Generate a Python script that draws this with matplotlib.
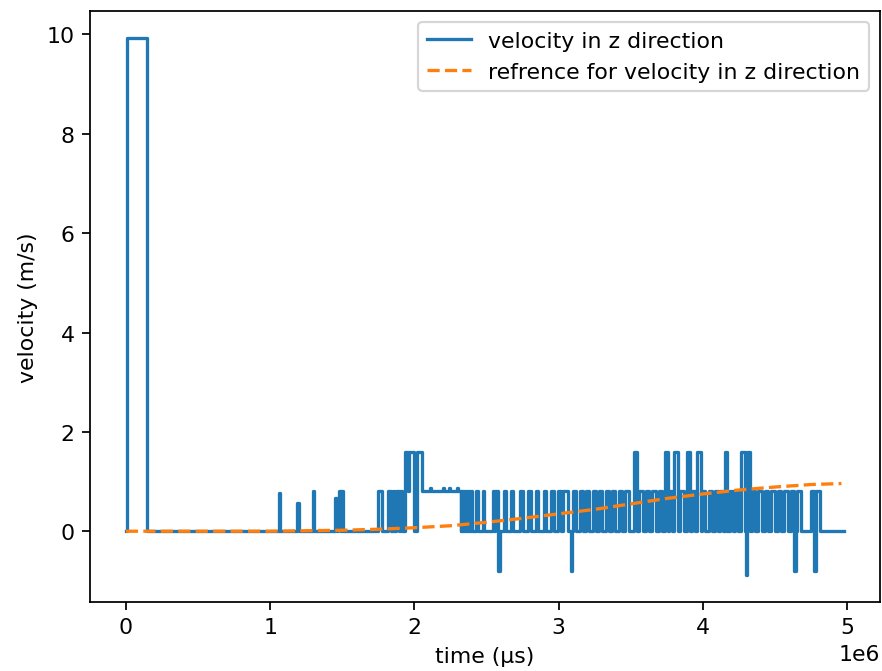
import matplotlib
matplotlib.use("Agg")
import matplotlib.pyplot as plt
import numpy as np

# velocity signal: step changes (time in 1e6 us, value in m/s)
early_t = [0.0, 0.005, 0.145,
           1.058, 1.068, 1.188, 1.198, 1.297, 1.307,
           1.450, 1.462, 1.467, 1.478, 1.488, 1.494, 1.505,
           1.745, 1.775, 1.815, 1.835, 1.850, 1.860, 1.875, 1.890, 1.897, 1.917,
           1.935, 1.955, 1.962, 1.995, 2.020, 2.055,
           2.110, 2.118, 2.195, 2.203, 2.240, 2.248, 2.295, 2.303, 2.320]
early_v = [0.0, 9.93, 0.0,
           0.77, 0.0, 0.57, 0.0, 0.8, 0.0,
           0.67, 0.0, 0.67, 0.8, 0.0, 0.8, 0.0,
           0.8, 0.0, 0.8, 0.0, 0.8, 0.0, 0.8, 0.0, 0.8, 0.0,
           1.6, 0.8, 1.6, 0.0, 1.6, 0.8,
           0.88, 0.8, 0.88, 0.8, 0.88, 0.8, 0.88, 0.8, 0.0]

# later pulses on a zero baseline: start, end, value
pulse_start = [2.322, 2.336, 2.350, 2.364, 2.378, 2.392, 2.430, 2.475, 2.545, 2.562, 2.582,
               2.620, 2.670, 2.735, 2.790, 2.840, 2.895, 2.950, 2.995, 3.030, 3.085,
               3.100, 3.145, 3.190, 3.235, 3.280, 3.325, 3.370, 3.415, 3.460,
               3.520, 3.560, 3.605, 3.650, 3.695, 3.735, 3.765, 3.800,
               3.840, 3.890, 3.925, 3.960, 3.995, 4.040, 4.085, 4.120, 4.150,
               4.185, 4.220, 4.265, 4.298, 4.306, 4.340, 4.385, 4.430, 4.475,
               4.520, 4.565, 4.610, 4.632, 4.655, 4.750, 4.772, 4.785]
pulse_end = [2.330, 2.344, 2.358, 2.372, 2.386, 2.400, 2.440, 2.485, 2.555, 2.578, 2.592,
             2.635, 2.685, 2.750, 2.805, 2.855, 2.910, 2.965, 3.015, 3.065, 3.095,
             3.122, 3.167, 3.212, 3.257, 3.302, 3.347, 3.392, 3.437, 3.490,
             3.540, 3.582, 3.627, 3.672, 3.717, 3.755, 3.785, 3.825,
             3.870, 3.910, 3.945, 3.985, 4.017, 4.062, 4.107, 4.140, 4.170,
             4.207, 4.245, 4.295, 4.306, 4.325, 4.362, 4.407, 4.452, 4.497,
             4.542, 4.590, 4.630, 4.642, 4.680, 4.770, 4.782, 4.810]
pulse_val = [0.8, 0.8, 0.8, 0.8, 0.8, 0.8, 0.8, 0.8, 0.8, 0.8, -0.8,
             0.8, 0.8, 0.8, 0.8, 0.8, 0.8, 0.8, 0.8, 0.8, -0.8,
             0.8, 0.8, 0.8, 0.8, 0.8, 0.8, 0.8, 0.8, 0.8,
             1.6, 0.8, 0.8, 0.8, 0.8, 1.6, 0.8, 1.6,
             0.8, 1.6, 0.8, 1.6, 0.8, 0.8, 0.8, 0.8, 1.6,
             0.8, 0.8, 1.6, -0.88, 1.6, 0.8, 0.8, 0.8, 0.8,
             0.8, 0.8, 0.8, -0.8, 0.8, 0.8, -0.8, 0.8]
end_time = 4.98

# reference velocity
ref_t = [0.0, 0.5, 1.0, 1.25, 1.5, 1.75, 2.0, 2.25, 2.5, 2.75, 3.0, 3.25, 3.5,
         3.75, 4.0, 4.25, 4.5, 4.75, 4.96]
ref_v = [0.0, 0.0, 0.0, 0.01, 0.02, 0.04, 0.07, 0.11, 0.18, 0.26, 0.35, 0.44, 0.55,
         0.66, 0.75, 0.83, 0.89, 0.94, 0.96]

# build step arrays
t = list(early_t)
v = list(early_v)
for s, e, val in zip(pulse_start, pulse_end, pulse_val):
    if t[-1] == s:
        v[-1] = val
    else:
        t.append(s)
        v.append(val)
    t.append(e)
    v.append(0.0)
t.append(end_time)
v.append(0.0)

t = np.array(t) * 1e6
ref_t = np.array(ref_t) * 1e6

dpi = 158
fig = plt.figure(figsize=(882 / dpi, 672 / dpi), dpi=dpi)
ax = fig.add_axes([0.102, 0.103, 0.896, 0.879])
ax.step(t, v, where='post', label='velocity in z direction')
ax.plot(ref_t, ref_v, '--', label='refrence for velocity in z direction')
ax.set_xlabel('time (µs)')
ax.set_ylabel('velocity (m/s)')
ax.legend(loc='upper right')

fig.savefig('out.png', dpi=dpi)
